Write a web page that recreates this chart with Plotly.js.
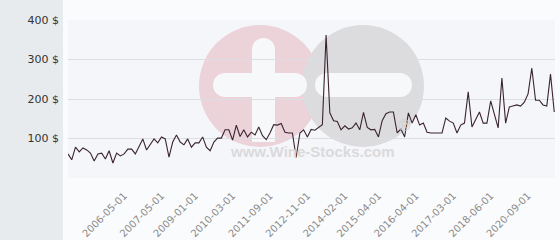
<!DOCTYPE html>
<html><head><meta charset="utf-8">
<script src="https://cdn.plot.ly/plotly-3.0.1.min.js"></script>
<style>html,body{margin:0;padding:0;background:#fafbfc}#chart{width:560px;height:240px}</style>
</head><body><div id="chart"></div>
<script>
const prices = [61,46,78,66,76,71,63,43,61,63,
48,69,38,63,56,61,73,73,61,82,
99,71,84,99,89,104,99,53,91,109,
91,84,99,78,89,89,104,78,69,91,
101,101,122,122,96,134,105,122,104,116,
109,129,107,97,114,135,134,138,116,114,
114,52,114,122,104,123,121,128,135,362,
165,145,143,122,132,124,127,139,122,166,
128,122,123,104,145,163,167,167,114,124,
104,165,139,160,134,139,116,114,114,114,
114,152,144,139,114,134,139,218,129,148,
167,139,139,195,160,127,253,139,180,182,
185,182,192,213,278,197,197,185,182,263,
167];
const tickIndex = [15,25,34,44,54,64,74,83,93,103,113,123];
const tickDates = ['2006-05-01','2007-05-01','2009-01-01','2010-03-01','2011-09-01','2012-11-01','2014-02-01','2015-04-01','2016-04-01','2017-03-01','2018-06-01','2020-09-01'];
const yTicks = [0,100,200,300,400];
const yTickText = ['','100 $','200 $','300 $','400 $'];
const idx = prices.map((_, i) => i);

const L=68, T=20, W=487, H=158;
const px = x => (x-L)/W, py = y => (T+H-y)/H;
function circ(cx,cy,r,color){return {type:'circle',xref:'x domain',yref:'y domain',x0:px(cx-r),x1:px(cx+r),y0:py(cy+r),y1:py(cy-r),fillcolor:color,line:{width:0},layer:'below'};}
function rect(x0,y0,x1,y1,color,ref){return {type:'rect',xref:ref?'paper':'x domain',yref:ref?'paper':'y domain',x0:px(x0),x1:px(x1),y0:py(y1),y1:py(y0),fillcolor:color,line:{width:0},layer:'below'};}
const pink='#ecd2d9', gray='#dcdcde', wh='#f7f8fa';
const shapes = [
  rect(0,0,63,240,'#e7ebee',true),
  circ(260,86,61,pink),
  circ(363,86,61,gray),
  rect(252,49,275,142,wh), circ(263.5,49.5,11.5,wh),
  rect(225,73,295,97,wh), circ(225,85,12,wh), circ(295,85,12,wh),
  rect(327,73,400,97,wh), circ(327,85,12,wh), circ(400,85,12,wh)
];

const trace = {x: idx, y: prices, type:'scatter', mode:'lines',
  line:{color:'#3a2430', width:1.1}, hoverinfo:'skip'};

const layout = {
  width:560, height:240,
  margin:{l:68, r:5, t:20, b:62},
  paper_bgcolor:'#fafbfc', plot_bgcolor:'#f5f6f9',
  showlegend:false,
  font:{family:'DejaVu Sans', size:11, color:'#333'},
  xaxis:{range:[0,130.2], tickvals:tickIndex, ticktext:tickDates, tickangle:-45,
    showgrid:false, zeroline:false, showline:false, ticks:'', ticklabelstandoff:9,
    tickfont:{family:'DejaVu Sans', size:10, color:'#8a8a8a'}},
  yaxis:{range:[0,400], tickvals:yTicks, ticktext:yTickText, showgrid:true,
    gridcolor:'#dcdee3', gridwidth:1, zeroline:false, showline:false, ticks:'',
    ticklabelstandoff:8, tickfont:{family:'DejaVu Sans', size:11, color:'#333'}},
  shapes: shapes,
  annotations:[
    {xref:'paper', yref:'paper', x:px(312), y:py(162), text:'www.Wine-Stocks.com', showarrow:false,
     font:{family:'Liberation Sans', size:15, color:'#dadadc', weight:'bold'}},
    {xref:'paper', yref:'paper', x:px(413), y:py(137), text:'®', showarrow:false,
     font:{family:'Liberation Sans', size:17, color:'#d2d2d4'}}
  ]
};
Plotly.newPlot('chart', [trace], layout, {displayModeBar:false, staticPlot:true});
</script></body></html>
